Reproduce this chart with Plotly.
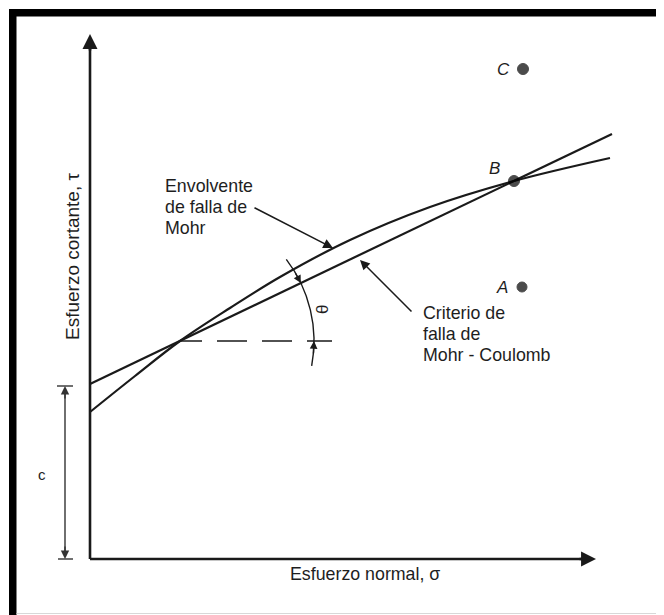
import math
import plotly.graph_objects as go

# ---------------- data (diagram units: sigma right, tau up, origin at axes corner)
mc_sigma = [0, 522]            # Mohr-Coulomb straight criterion
mc_tau = [175, 425]
env_sigma = [0, 45, 90, 140, 190, 260, 340, 424, 520]   # Mohr failure envelope
env_tau = [147, 183, 218, 251, 282, 319, 352, 378, 401]
pt_labels = ["A", "B", "C"]
pt_sigma = [432, 424, 433]
pt_tau = [272, 378, 490]
cohesion = 173
x_title = "Esfuerzo normal, σ"
y_title = "Esfuerzo cortante, τ"
env_label = ["Envolvente", "de falla de", "Mohr"]
mc_label = ["Criterio de", "falla de", "Mohr - Coulomb"]

INK = "#1a1a1a"
FONT = "Liberation Sans, Arial, sans-serif"
W, H = 664, 615
OFF = 8            # page body margin
OX, OY = 90, 559   # pixel position (in the window) of the axes corner


def X(px):
    return px - OX


def Y(py):
    return OY - py


def PX(px):
    return (px - OFF) / W


def PY(py):
    return 1 - (py - OFF) / H


fig = go.Figure()

# axes lines
fig.add_trace(go.Scatter(x=[0, X(585)], y=[0, 0], mode="lines",
                         line=dict(color=INK, width=2.6), hoverinfo="skip"))
fig.add_trace(go.Scatter(x=[0, 0], y=[0, Y(46)], mode="lines",
                         line=dict(color=INK, width=2.6), hoverinfo="skip"))

# curves
fig.add_trace(go.Scatter(x=mc_sigma, y=mc_tau, mode="lines",
                         line=dict(color=INK, width=2.2), hoverinfo="skip"))
fig.add_trace(go.Scatter(x=env_sigma, y=env_tau, mode="lines",
                         line=dict(color=INK, width=2.2, shape="spline", smoothing=1.0),
                         hoverinfo="skip"))

# horizontal dashed reference line from intersection
fig.add_trace(go.Scatter(x=[90, X(332)], y=[218, 218], mode="lines",
                         line=dict(color=INK, width=1.5,
                                   dash="22px,15px,30px,15px,30px,15px,30px"),
                         hoverinfo="skip"))

# points
fig.add_trace(go.Scatter(x=pt_sigma, y=pt_tau, mode="markers",
                         marker=dict(color="#000", size=[10, 11, 11],
                                     line=dict(color="#000", width=1)),
                         hoverinfo="skip"))

# cohesion dimension line
fig.add_trace(go.Scatter(x=[X(65), X(65)], y=[3, cohesion - 3], mode="lines",
                         line=dict(color="#333", width=1.4), hoverinfo="skip"))
fig.add_trace(go.Scatter(x=[X(57), X(73)], y=[cohesion, cohesion], mode="lines",
                         line=dict(color="#333", width=1.4), hoverinfo="skip"))
fig.add_trace(go.Scatter(x=[X(58), X(73)], y=[0, 0], mode="lines",
                         line=dict(color="#333", width=1.4), hoverinfo="skip"))

ann = []


def arrow(x, y, ax, ay, head=2, size=1.0, width=1.5, color=INK):
    ann.append(dict(x=x, y=y, ax=ax, ay=ay, xref="x", yref="y", axref="x", ayref="y",
                    text="", showarrow=True, arrowhead=head, arrowsize=size,
                    arrowwidth=width, arrowcolor=color, standoff=0, startstandoff=0))


def text(x, y, s, size=17.8, xanchor="left", yanchor="middle", italic=False, angle=0,
         color="#1e1e1e"):
    ann.append(dict(x=x, y=y, xref="x", yref="y", text=s, showarrow=False,
                    xanchor=xanchor, yanchor=yanchor, textangle=angle,
                    font=dict(family=FONT, size=size, color=color,
                              style="italic" if italic else "normal")))


# axis arrowheads
arrow(X(596), 0, X(578), 0, head=2, size=1.15, width=2.6)
arrow(0, Y(34), 0, Y(52), head=2, size=1.15, width=2.6)

# cohesion arrows
arrow(X(65), cohesion, X(65), cohesion - 14, head=2, size=1.2, width=1.4, color="#333")
arrow(X(65), 0, X(65), 14, head=2, size=1.2, width=1.4, color="#333")

# leader arrows
arrow(X(333), Y(248), X(253), Y(207), head=2, size=1.3, width=1.5)
arrow(X(360), Y(260), X(413), Y(313), head=2, size=1.3, width=1.5)

# angle arc (centre at intersection, radius 134)
cx, cy, r = 90, 218, 134
a0, a1 = math.radians(-10.7), math.radians(37.5)
k = 4 / 3 * math.tan((a1 - a0) / 4)
p0 = (cx + r * math.cos(a0), cy + r * math.sin(a0))
p3 = (cx + r * math.cos(a1), cy + r * math.sin(a1))
p1 = (p0[0] - k * r * math.sin(a0), p0[1] + k * r * math.cos(a0))
p2 = (p3[0] + k * r * math.sin(a1), p3[1] - k * r * math.cos(a1))
arc_path = "M {:.2f},{:.2f} C {:.2f},{:.2f} {:.2f},{:.2f} {:.2f},{:.2f}".format(
    *p0, *p1, *p2, *p3)

# arrowheads on the arc
t0 = math.radians(-6)
arrow(cx + r, cy, cx + r * math.cos(t0), cy + r * math.sin(t0), head=2, size=1.1, width=1.4)
tl = math.radians(25.6)
t1 = math.radians(31)
arrow(cx + r * math.cos(tl), cy + r * math.sin(tl),
      cx + r * math.cos(t1), cy + r * math.sin(t1), head=2, size=1.1, width=1.4)

# texts
text(X(72), Y(257), y_title, angle=-90, xanchor="center", yanchor="middle", size=19)
text(X(365), Y(574), x_title, xanchor="center")
for i, s in enumerate(env_label):
    text(X(163), Y(186 + 21 * i), s)
for i, s in enumerate(mc_label):
    text(X(421), Y(313 + 21 * i), s)
text(X(322), Y(310), "θ", angle=-90, xanchor="center", size=17)
text(X(42), Y(474), "c", xanchor="center", size=15)
for lab, sx, st in zip(pt_labels, pt_sigma, pt_tau):
    text(sx - 20, st + (13 if lab == "B" else 0), lab, italic=True, xanchor="center",
         size=17)

shapes = [
    dict(type="path", path=arc_path, xref="x", yref="y",
         line=dict(color=INK, width=1.4)),
    # frame
    dict(type="rect", xref="paper", yref="paper", x0=PX(9), x1=PX(16.5), y0=PY(700),
         y1=PY(9), fillcolor="#000", line=dict(width=0)),
    dict(type="rect", xref="paper", yref="paper", x0=PX(9), x1=PX(700), y0=PY(16.5),
         y1=PY(9), fillcolor="#000", line=dict(width=0)),
    dict(type="line", xref="paper", yref="paper", x0=PX(9), x1=PX(700), y0=PY(7.5),
         y1=PY(7.5), line=dict(color="#d8d8d8", width=1)),
    dict(type="line", xref="paper", yref="paper", x0=PX(16.5), x1=PX(700), y0=PY(613.5),
         y1=PY(613.5), line=dict(color="#d8d8d8", width=1)),
]

fig.update_layout(
    width=W, height=H, autosize=False,
    margin=dict(l=0, r=0, t=0, b=0, pad=0),
    paper_bgcolor="white", plot_bgcolor="white",
    showlegend=False,
    xaxis=dict(range=[X(OFF), X(OFF + W)], visible=False, fixedrange=True),
    yaxis=dict(range=[Y(OFF + H), Y(OFF)], visible=False, fixedrange=True),
    annotations=ann, shapes=shapes,
)

fig.write_html("out.html")
